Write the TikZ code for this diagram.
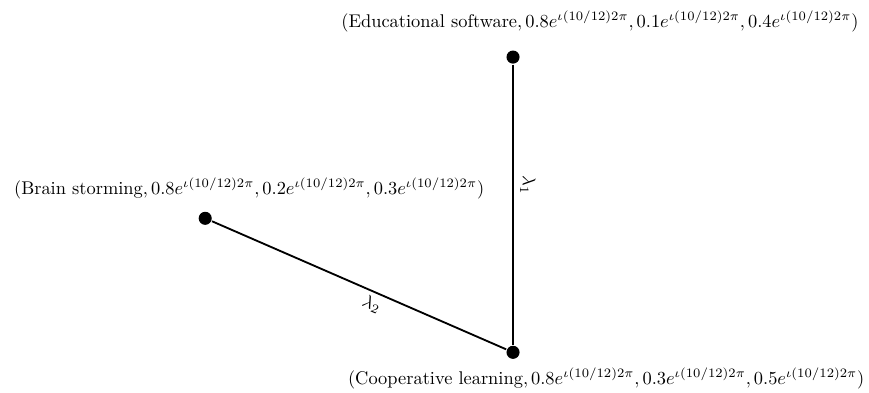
\documentclass[tikz,border=0pt]{standalone}
\usepackage{amsmath,amssymb}
\usetikzlibrary{positioning}
\newcommand{\eph}{e^{\iota(10/12)2\pi}}
\tikzset{
  every picture/.style={line width=1pt},
  sdot/.style={circle, fill=black, inner sep=0pt, minimum size=0.25cm},
  sedge/.style={solid},
  slbl/.style={inner sep=1pt},
}
\begin{document}
\begin{tikzpicture}
  \useasboundingbox (0,0) rectangle (16.6,7.49);
  \node[sdot] (E) at (9.80,6.40) {};
  \node[slbl, above=8pt of E, xshift=1.66cm] (tE) {(Educational software$,0.8\eph,0.1\eph,0.4\eph)$};
  \node[sdot] (B) at (3.92,3.32) {};
  \node[slbl, above=5pt of B, xshift=0.84cm] (tB) {(Brain storming$,0.8\eph,0.2\eph,0.3\eph)$};
  \node[sdot] (C) at (9.80,0.76) {};
  \node[slbl, below=3pt of C, xshift=1.78cm] (tC) {(Cooperative learning$,0.8\eph,0.3\eph,0.5\eph)$};
  \draw[sedge] (E) -- node[pos=0.43, above, sloped] {$\lambda_1$} (C);
  \draw[sedge] (B) -- node[pos=0.56, below, sloped, inner sep=2pt] {$\lambda_2$} (C);
\end{tikzpicture}
\end{document}
